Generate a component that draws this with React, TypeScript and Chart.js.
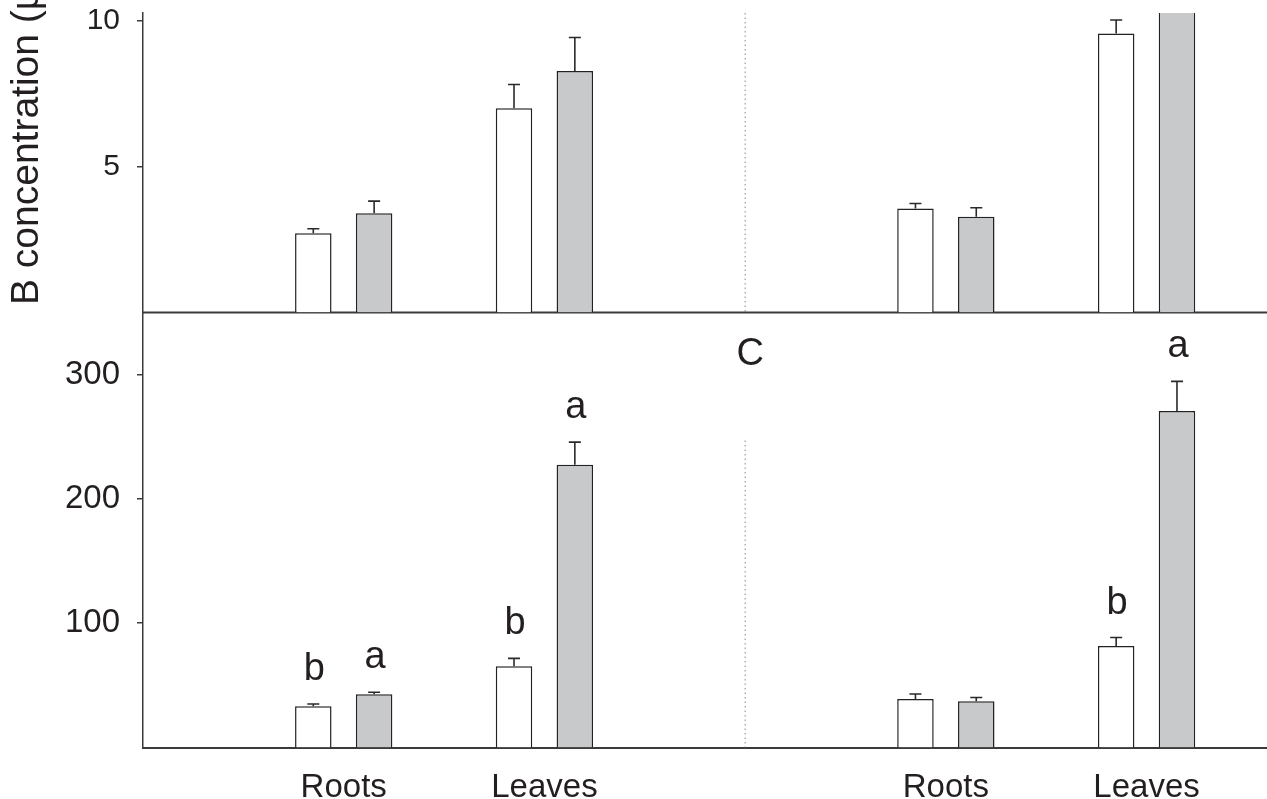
import React, { useEffect, useRef } from 'react';
import { Chart, registerables } from 'chart.js';

Chart.register(...registerables);

// ---- data ----
const categories = ['Roots', 'Leaves', 'Roots', 'Leaves'];
const categoryPositions = [1, 2, 4, 5];
const dividerPosition = 3;

// upper panel (B)
const topControl = [2.72, 7.0, 3.57, 9.57];
const topControlErr = [0.15, 0.82, 0.17, 0.46];
const topTreated = [3.4, 8.28, 3.28, 11.6];
const topTreatedErr = [0.42, 1.15, 0.31, 0.8];
const topTicks = [5, 10];

// lower panel (C)
const bottomControl = [33.2, 65.3, 39.1, 81.6];
const bottomControlErr = [1.8, 6.4, 4.0, 6.9];
const bottomTreated = [42.8, 227.5, 37.2, 270.8];
const bottomTreatedErr = [1.6, 18.2, 3.0, 23.8];
const bottomTicks = [100, 200, 300];
const bottomControlLetters = ['b', 'b', '', 'b'];
const bottomTreatedLetters = ['a', 'a', '', 'a'];

const panelLabel = 'C';
const yTitle = 'B concentration (µg g⁻¹ DW)';

// ---- style ----
const FONT = '"Liberation Sans", Arial, Helvetica, sans-serif';
const TEXT = '#231f20';
const AXIS = '#3a3a3a';
const GRAY = '#c8c9cb';

const toPoints = (vals: number[]) => categoryPositions.map((p, i) => ({ x: p, y: vals[i] }));

const errorSets = [topControlErr, topTreatedErr, bottomControlErr, bottomTreatedErr];
const letterSets: (string[] | null)[] = [null, null, bottomControlLetters, bottomTreatedLetters];

const overlay = {
  id: 'overlay',
  beforeDatasetsDraw(chart: any) {
    const { ctx, chartArea } = chart;
    const xs = chart.scales.x;
    const yT = chart.scales.yTop;
    const yB = chart.scales.yBot;
    const dx = xs.getPixelForValue(dividerPosition);
    ctx.save();
    ctx.strokeStyle = '#8a8a8a';
    ctx.lineWidth = 1;
    ctx.setLineDash([1.5, 3]);
    ctx.beginPath();
    ctx.moveTo(dx, yT.top);
    ctx.lineTo(dx, yT.bottom);
    ctx.moveTo(dx, yB.getPixelForValue(247));
    ctx.lineTo(dx, yB.bottom);
    ctx.stroke();
    ctx.restore();
    // separator between panels (baseline of upper panel)
    ctx.save();
    ctx.strokeStyle = AXIS;
    ctx.lineWidth = 2;
    ctx.beginPath();
    ctx.moveTo(chartArea.left, yT.bottom);
    ctx.lineTo(chartArea.right, yT.bottom);
    ctx.stroke();
    ctx.restore();
  },
  afterDatasetsDraw(chart: any) {
    const { ctx, chartArea } = chart;
    chart.data.datasets.forEach((ds: any, di: number) => {
      const meta = chart.getDatasetMeta(di);
      const ys = chart.scales[ds.yAxisID];
      const errs = errorSets[di];
      const letters = letterSets[di];
      ctx.save();
      ctx.beginPath();
      ctx.rect(chartArea.left, ys.top - 1, chartArea.right - chartArea.left, ys.bottom - ys.top + 1);
      ctx.clip();
      ctx.strokeStyle = '#2a2a2a';
      ctx.lineWidth = 1.6;
      meta.data.forEach((bar: any, i: number) => {
        const v = ds.data[i].y;
        const x = bar.x;
        const y0 = ys.getPixelForValue(v);
        const y1 = ys.getPixelForValue(v + errs[i]);
        ctx.beginPath();
        ctx.moveTo(x, y0);
        ctx.lineTo(x, y1);
        ctx.moveTo(x - 6, y1);
        ctx.lineTo(x + 6, y1);
        ctx.stroke();
        if (letters && letters[i]) {
          ctx.fillStyle = TEXT;
          ctx.font = `38px ${FONT}`;
          ctx.textAlign = 'center';
          ctx.textBaseline = 'alphabetic';
          ctx.fillText(letters[i], x + 1, y1 - 24);
        }
      });
      ctx.restore();
    });
  },
  afterDraw(chart: any) {
    const { ctx } = chart;
    const xs = chart.scales.x;
    const yB = chart.scales.yBot;
    ctx.save();
    ctx.fillStyle = TEXT;
    ctx.font = `38px ${FONT}`;
    ctx.textAlign = 'center';
    ctx.textBaseline = 'middle';
    ctx.fillText(panelLabel, xs.getPixelForValue(dividerPosition) + 5, yB.top + 42);
    ctx.restore();

    ctx.save();
    ctx.fillStyle = TEXT;
    ctx.font = `39px ${FONT}`;
    ctx.translate(38, 305);
    ctx.rotate(-Math.PI / 2);
    ctx.textAlign = 'left';
    ctx.textBaseline = 'alphabetic';
    ctx.fillText(yTitle, 0, 0);
    ctx.restore();
  },
};

const yAxisCommon = (fontSize: number) => ({
  type: 'linear' as const,
  position: 'left' as const,
  stack: 'panels',
  stacked: false,
  grid: {
    display: true,
    drawOnChartArea: false,
    drawTicks: true,
    tickLength: 6,
    color: AXIS,
    lineWidth: 1.5,
  },
  border: { display: true, color: AXIS, width: 1.5 },
  ticks: {
    padding: 17,
    color: TEXT,
    autoSkip: false,
    font: { family: FONT, size: fontSize },
  },
  afterFit: (s: any) => {
    s.width = 143;
    s.paddingTop = 0;
    s.paddingBottom = 0;
  },
});

export default function App() {
  const ref = useRef<HTMLCanvasElement>(null);

  useEffect(() => {
    const canvas = ref.current;
    if (!canvas) return;
    const chart = new Chart(canvas, {
      type: 'bar',
      data: {
        datasets: [
          {
            label: 'Control (B)',
            data: toPoints(topControl),
            yAxisID: 'yTop',
            stack: 'control',
            backgroundColor: '#ffffff',
            borderColor: '#222',
            borderWidth: 1.5,
          },
          {
            label: 'Treated (B)',
            data: toPoints(topTreated),
            yAxisID: 'yTop',
            stack: 'treated',
            backgroundColor: GRAY,
            borderColor: '#222',
            borderWidth: 1.5,
          },
          {
            label: 'Control (C)',
            data: toPoints(bottomControl),
            yAxisID: 'yBot',
            stack: 'control',
            backgroundColor: '#ffffff',
            borderColor: '#222',
            borderWidth: 1.5,
          },
          {
            label: 'Treated (C)',
            data: toPoints(bottomTreated),
            yAxisID: 'yBot',
            stack: 'treated',
            backgroundColor: GRAY,
            borderColor: '#222',
            borderWidth: 1.5,
          },
        ] as any,
      },
      options: {
        animation: false,
        responsive: false,
        devicePixelRatio: 1,
        layout: { padding: { top: 13, left: 0, right: 0, bottom: 0 } },
        plugins: {
          legend: { display: false },
          tooltip: { enabled: false },
          title: { display: false },
        },
        datasets: {
          bar: { categoryPercentage: 0.606, barPercentage: 0.6 },
        },
        scales: {
          x: {
            type: 'linear',
            position: 'bottom',
            offset: false,
            min: 0,
            max: 5.6,
            grid: { display: false, offset: false },
            border: { display: true, color: AXIS, width: 2 },
            afterBuildTicks: (s: any) => {
              s.ticks = categoryPositions.map((v) => ({ value: v }));
            },
            ticks: {
              autoSkip: false,
              padding: 13,
              color: TEXT,
              font: { family: FONT, size: 33 },
              callback: (v: any) => {
                const idx = categoryPositions.indexOf(Number(v));
                return idx >= 0 ? categories[idx] : '';
              },
            },
            afterFit: (s: any) => {
              s.height = 51.5;
              s.paddingLeft = 0;
              s.paddingRight = 0;
            },
          },
          yTop: {
            ...yAxisCommon(30),
            weight: 1,
            stackWeight: 299.5,
            min: 0,
            max: 10.27,
            afterBuildTicks: (s: any) => {
              s.ticks = topTicks.map((v) => ({ value: v }));
            },
          },
          yBot: {
            ...yAxisCommon(33),
            weight: 0,
            stackWeight: 435,
            min: 0,
            max: 350,
            afterBuildTicks: (s: any) => {
              s.ticks = bottomTicks.map((v) => ({ value: v }));
            },
          },
        } as any,
      },
      plugins: [overlay],
    });
    return () => chart.destroy();
  }, []);

  return (
    <div style={{ position: 'fixed', left: 0, top: 0, width: 1267, height: 799, background: '#fff' }}>
      <canvas ref={ref} width={1267} height={799} style={{ display: 'block', width: 1267, height: 799 }} />
    </div>
  );
}
